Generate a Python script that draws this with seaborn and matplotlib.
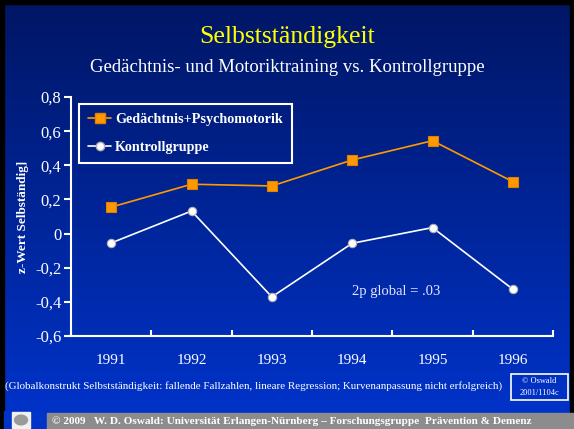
import numpy as np
import pandas as pd
import matplotlib
matplotlib.use("Agg")
import matplotlib.pyplot as plt
import seaborn as sns
from matplotlib.patches import Rectangle, Circle
from matplotlib.lines import Line2D

# ---- data ----
years = [1991, 1992, 1993, 1994, 1995, 1996]
training = [0.155, 0.289, 0.279, 0.431, 0.544, 0.304]
kontroll = [-0.055, 0.132, -0.371, -0.057, 0.035, -0.326]
series_names = ["Gedächtnis+Psychomotorik", "Kontrollgruppe"]
y_ticks = [-0.6, -0.4, -0.2, 0.0, 0.2, 0.4, 0.6, 0.8]
y_tick_labels = ["-0,6", "-0,4", "-0,2", "0", "0,2", "0,4", "0,6", "0,8"]

title = "Selbstständigkeit"
subtitle = "Gedächtnis- und Motoriktraining vs. Kontrollgruppe"
ylabel = "z-Wert Selbständig]"
annot = "2p global = .03"
footnote = ("(Globalkonstrukt Selbstständigkeit: fallende Fallzahlen, lineare Regression; "
            "Kurvenanpassung nicht erfolgreich)")
copy_box = "© Oswald\n2001/1104c"
footer = "© 2009   W. D. Oswald: Universität Erlangen-Nürnberg – Forschungsgruppe  Prävention & Demenz"

df = pd.DataFrame({
    "Jahr": years * 2,
    "z": training + kontroll,
    "Gruppe": [series_names[0]] * len(years) + [series_names[1]] * len(years),
})

sns.set_theme(style="white")
plt.rcParams["font.family"] = ["Liberation Serif", "DejaVu Serif"]

W, H = 574, 429
fig = plt.figure(figsize=(W / 100, H / 100), dpi=100)

# background gradient
bg = fig.add_axes([0, 0, 1, 1], zorder=-10)
top = np.array([0, 22, 100]) / 255.0
bot = np.array([0, 52, 205]) / 255.0
t = np.linspace(0, 1, 256)[:, None]
grad = (top[None, :] * (1 - t) + bot[None, :] * t)[:, None, :]
bg.imshow(grad, aspect="auto", extent=[0, 1, 0, 1], origin="upper")
bg.set_xlim(0, 1)
bg.set_ylim(0, 1)
bg.axis("off")

# black frame
fw, fh = 4 / W, 4 / H
for r in [(0, 0, fw, 1), (1 - fw, 0, fw, 1), (0, 1 - fh, 1, fh)]:
    bg.add_patch(Rectangle((r[0], r[1]), r[2], r[3], color="black", transform=bg.transAxes))

# footer strip
bg.add_patch(Rectangle((47 / W, 0), 1 - 47 / W, 16 / H, color="#8c8c8c", transform=bg.transAxes))
bg.add_patch(Rectangle((fw, 0), 44 / W - fw, 18 / H, color="#0033c8", transform=bg.transAxes))
bg.add_patch(Rectangle((12 / W, 1 / H), 18 / W, 16 / H, color="#f0f0f0", transform=bg.transAxes))
bg.add_patch(Circle((21 / W, 9 / H), 6.5 / W, color="#9a9a9a", transform=bg.transAxes))
fig.text(52 / W, 8 / H, footer, color="white", fontsize=8.1, fontweight="bold",
         ha="left", va="center")

# main axes
ax = fig.add_axes([71 / W, 1 - 336 / H, (553 - 71) / W, (336 - 97) / H])
ax.set_facecolor("none")
palette = {series_names[0]: "#ff9900", series_names[1]: "white"}
markers = {series_names[0]: "s", series_names[1]: "o"}
sns.lineplot(data=df, x="Jahr", y="z", hue="Gruppe", style="Gruppe",
             palette=palette, markers=markers, dashes=False, ax=ax,
             linewidth=1.2, markersize=7, markeredgewidth=0.8, legend=False)
for ln, ec in zip(ax.get_lines(), ["#e08000", "#b0b0b0"]):
    ln.set_markeredgecolor(ec)
    ln.set_clip_on(False)
ax.get_lines()[0].set_markersize(7)
ax.get_lines()[1].set_markersize(6)

ax.set_xlim(1990.5, 1996.5)
ax.set_ylim(-0.6, 0.8)
for s in ["top", "right"]:
    ax.spines[s].set_visible(False)
for s in ["left", "bottom"]:
    ax.spines[s].set_color("white")
    ax.spines[s].set_linewidth(1.5)

ax.set_yticks(y_ticks)
ax.set_yticklabels(y_tick_labels)
ax.tick_params(axis="y", direction="out", length=5, width=1.5, color="white",
               labelcolor="white", labelsize=12, pad=2, left=True)
ax.set_xticks(years)
ax.set_xticklabels([str(y) for y in years])
ax.set_xticks([y + 0.5 for y in [1990] + years], minor=True)
ax.tick_params(axis="x", which="major", length=0, labelcolor="white", labelsize=11, pad=13)
ax.tick_params(axis="x", which="minor", direction="in", length=4, width=1.5, color="white", bottom=True)
ax.set_xlabel("")
ax.set_ylabel(ylabel, color="white", fontsize=9.5, fontweight="bold")
ax.yaxis.set_label_coords(-0.088, 0.5)
ax.grid(False)

handles = [Line2D([], [], color="#ff9900", marker="s", markersize=7, markeredgecolor="#e08000", lw=1.2),
           Line2D([], [], color="white", marker="o", markersize=6, markeredgecolor="#b0b0b0", lw=1.2)]
leg = ax.legend(handles, series_names, loc="upper left", bbox_to_anchor=(0.0166, 0.971),
                borderaxespad=0, frameon=True, fancybox=False,
                facecolor="none", edgecolor="white", handlelength=1.6, handletextpad=0.3,
                labelspacing=1.05, borderpad=0.65,
                prop={"family": "Liberation Serif", "weight": "bold", "size": 10.2})
leg.get_frame().set_linewidth(1.5)
leg.get_frame().set_alpha(None)
for txt in leg.get_texts():
    txt.set_color("white")

ax.text(1994.55, -0.342, annot, color="#e6e6ff", fontsize=10.5, ha="center", va="center")

# titles
fig.text(0.5, 1 - 37 / H, title, color="#ffff00", fontsize=18.5, ha="center", va="center")
fig.text(0.5, 1 - 68 / H, subtitle, color="white", fontsize=13.5, ha="center", va="center")
fig.text(5 / W, 1 - 386 / H, footnote, color="white", fontsize=7.95, ha="left", va="center")

# copyright box
fig.patches.append(Rectangle((511 / W, 1 - 400 / H), 57 / W, 26 / H, fill=False,
                             edgecolor="white", linewidth=1.2, transform=fig.transFigure))
fig.text(539.5 / W, 1 - 387 / H, copy_box, color="white", fontsize=6, ha="center",
         va="center", linespacing=1.6)

fig.savefig("out.png", dpi=100)
